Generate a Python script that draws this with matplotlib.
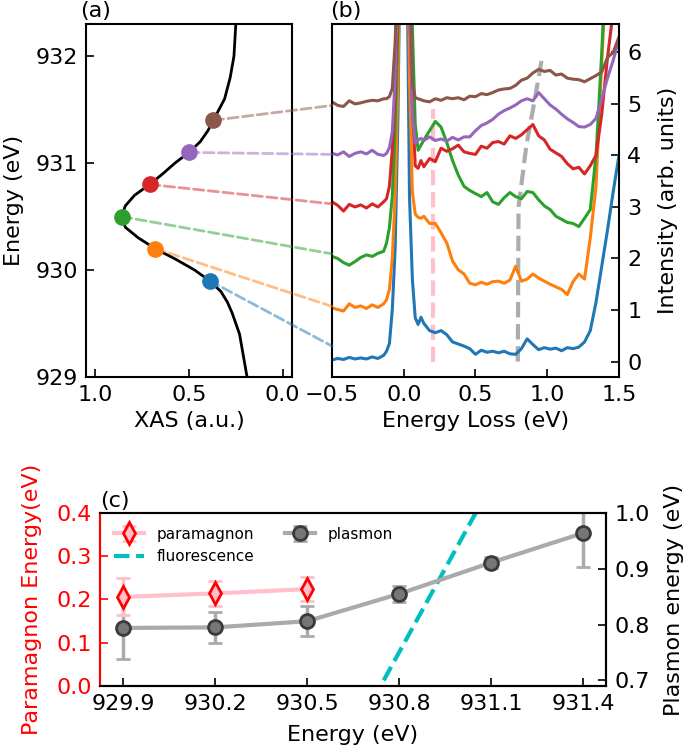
import numpy as np
import matplotlib
matplotlib.use('Agg')
import matplotlib.pyplot as plt
from matplotlib.patches import ConnectionPatch

plt.rcParams['font.size'] = 16
plt.rcParams['axes.linewidth'] = 1.5

# (a) XAS curve
xas_energy = [929.0, 929.2, 929.4, 929.5, 929.6, 929.7, 929.8, 929.9, 930.0, 930.1,
              930.2, 930.3, 930.4, 930.5, 930.6, 930.7, 930.8, 930.9, 931.0, 931.1,
              931.2, 931.3, 931.4, 931.5, 931.6, 931.8, 932.0, 932.3]
xas_int = [0.19, 0.21, 0.23, 0.25, 0.27, 0.295, 0.33, 0.39, 0.47, 0.57,
           0.68, 0.77, 0.84, 0.86, 0.84, 0.79, 0.71, 0.64, 0.575, 0.50,
           0.44, 0.40, 0.37, 0.34, 0.31, 0.28, 0.26, 0.25]

# incident energies and XAS at the marked points
energy = [929.9, 930.2, 930.5, 930.8, 931.1, 931.4]
xas_marks = [0.39, 0.68, 0.86, 0.71, 0.50, 0.37]
conn_end = [0.30, 1.07, 2.09, 3.06, 4.02, 4.97]
colors = ['C0', 'C1', 'C2', 'C3', 'C4', 'C5']

# (b) RIXS spectra (offset already included)
loss = [-0.50, -0.46, -0.42, -0.38, -0.34, -0.30, -0.26, -0.22, -0.18, -0.14,
        -0.12, -0.10, -0.08, -0.06, -0.04, 0.00, 0.04, 0.06, 0.08, 0.10,
        0.12, 0.14, 0.18, 0.22, 0.26, 0.30, 0.34, 0.38, 0.42, 0.46,
        0.50, 0.54, 0.58, 0.62, 0.66, 0.70, 0.74, 0.78, 0.82, 0.86,
        0.90, 0.94, 0.98, 1.02, 1.06, 1.10, 1.14, 1.18, 1.22, 1.26,
        1.30, 1.34, 1.38, 1.42, 1.46, 1.50]

spec_9299 = [0.03, 0.06, 0.04, 0.08, 0.05, 0.07, 0.05, 0.09, 0.06, 0.12,
             0.20, 0.35, 1.0, 2.2, 4.8, 14, 3.2, 1.6, 0.85, 0.72,
             0.86, 0.74, 0.60, 0.56, 0.60, 0.52, 0.38, 0.34, 0.30, 0.25,
             0.14, 0.22, 0.18, 0.20, 0.17, 0.20, 0.15, 0.14, 0.25, 0.44,
             0.33, 0.23, 0.27, 0.24, 0.26, 0.21, 0.27, 0.25, 0.28, 0.38,
             0.60, 1.15, 1.85, 2.55, 3.3, 4.0]
spec_9302 = [1.04, 1.01, 0.98, 1.12, 1.05, 1.08, 1.03, 1.10, 1.05, 1.12,
             1.20, 1.40, 2.0, 3.2, 5.5, 14, 5.5, 3.3, 2.86, 2.80,
             2.78, 2.82, 2.68, 2.68, 2.50, 2.30, 1.95, 1.78, 1.70, 1.52,
             1.49, 1.54, 1.50, 1.55, 1.56, 1.52, 1.58, 1.85, 1.56, 1.60,
             1.70, 1.62, 1.56, 1.50, 1.45, 1.40, 1.30, 1.55, 1.70, 1.60,
             2.4, 3.4, 5.8, 8.0, 10, 12]
spec_9305 = [2.04, 2.00, 1.92, 1.87, 1.94, 2.02, 2.07, 2.04, 2.10, 2.14,
             2.30, 2.60, 3.2, 4.5, 6.5, 15, 8.0, 6.5, 4.6, 4.10,
             4.20, 4.30, 4.48, 4.66, 4.55, 4.25, 3.90, 3.62, 3.40, 3.32,
             3.26, 3.20, 3.28, 3.10, 3.05, 3.18, 3.28, 3.20, 3.16, 3.30,
             3.28, 3.14, 3.02, 2.95, 2.82, 2.76, 2.70, 2.68, 2.62, 2.78,
             2.95, 4.0, 6.0, 8.5, 11, 13]
spec_9308 = [3.10, 3.03, 2.92, 3.05, 3.00, 3.04, 2.98, 3.06, 3.00, 3.10,
             3.16, 3.40, 4.1, 5.2, 7.0, 15, 7.0, 5.0, 3.80, 3.75,
             3.90, 3.78, 3.94, 3.88, 4.14, 4.08, 4.13, 4.20, 4.07, 4.04,
             4.02, 4.18, 4.14, 4.25, 4.27, 4.22, 4.38, 4.33, 4.40, 4.50,
             4.60, 4.38, 4.30, 4.12, 4.05, 3.98, 3.84, 3.74, 3.77, 3.64,
             3.80, 4.0, 4.8, 5.9, 6.8, 7.5]
spec_9311 = [4.04, 4.01, 4.07, 3.98, 4.04, 4.07, 4.03, 4.10, 4.02, 4.00,
             4.04, 4.15, 4.45, 5.5, 7.5, 15, 7.0, 4.8, 4.24, 4.30,
             4.33, 4.29, 4.36, 4.29, 4.32, 4.28, 4.35, 4.30, 4.36, 4.36,
             4.48, 4.58, 4.63, 4.70, 4.80, 4.87, 4.92, 4.98, 5.06, 5.10,
             5.06, 5.22, 5.10, 4.98, 4.90, 4.80, 4.71, 4.64, 4.56, 4.55,
             4.60, 4.72, 5.1, 5.5, 5.85, 6.25]
spec_9314 = [5.04, 4.97, 4.95, 5.06, 5.00, 5.02, 5.05, 5.07, 5.06, 5.10,
             5.10, 5.14, 5.3, 6.2, 8.0, 15, 8.0, 5.4, 5.12, 5.10,
             5.08, 5.06, 5.04, 5.10, 5.07, 5.12, 5.10, 5.12, 5.08, 5.15,
             5.14, 5.20, 5.18, 5.22, 5.27, 5.29, 5.30, 5.36, 5.46, 5.50,
             5.60, 5.67, 5.63, 5.65, 5.56, 5.58, 5.50, 5.48, 5.47, 5.43,
             5.49, 5.55, 5.62, 5.90, 6.00, 6.30]
spectra = [spec_9299, spec_9302, spec_9305, spec_9308, spec_9311, spec_9314]

# guide lines in (b)
para_guide_x = [0.205, 0.205]
para_guide_y = [0.0, 4.9]
plas_guide_x = [0.795, 0.800, 0.855, 0.911, 0.964]
plas_guide_y = [0.0, 3.0, 4.2, 5.05, 5.9]

# (c) fitted energies
para_E = [0.206, 0.214, 0.224]
para_err = [0.043, 0.029, 0.027]
plasmon_E = [0.794, 0.795, 0.806, 0.855, 0.911, 0.964]
plasmon_err = [0.055, 0.028, 0.027, 0.014, 0.010, 0.060]
fluor_E = [930.75, 931.05]
fluor_loss = [0.70, 1.00]

fig = plt.figure(figsize=(6.85, 7.51), dpi=100)
ax_a = fig.add_axes([0.1255, 0.498, 0.3008, 0.470])
ax_b = fig.add_axes([0.4847, 0.498, 0.4189, 0.470])
ax_c = fig.add_axes([0.146, 0.0866, 0.7387, 0.2303])

# ---- panel (a)
ax_a.plot(xas_int, xas_energy, color='k', lw=2)
for x, e, c in zip(xas_marks, energy, colors):
    ax_a.plot(x, e, 'o', color=c, ms=11, zorder=5)
ax_a.set_xlim(1.05, -0.05)
ax_a.set_ylim(929, 932.3)
ax_a.set_xticks([1.0, 0.5, 0.0])
ax_a.set_yticks([929, 930, 931, 932])
ax_a.tick_params(direction='in', length=6, width=1.2, pad=6)
ax_a.set_xlabel('XAS (a.u.)')
ax_a.set_ylabel('Energy (eV)', labelpad=8)
ax_a.text(-0.03, 1.01, '(a)', transform=ax_a.transAxes, ha='left', va='bottom')

# ---- panel (b)
ax_b.plot(para_guide_x, para_guide_y, color='pink', ls='--', lw=3)
ax_b.plot(plas_guide_x, plas_guide_y, color='gray', alpha=0.65, ls='--', lw=3)
for ys, c in zip(spectra, colors):
    ax_b.plot(loss, ys, color=c, lw=2.2)
ax_b.set_xlim(-0.5, 1.5)
ax_b.set_ylim(-0.3, 6.55)
ax_b.set_xticks([-0.5, 0.0, 0.5, 1.0, 1.5])
ax_b.set_yticks([0, 1, 2, 3, 4, 5, 6])
ax_b.yaxis.tick_right()
ax_b.yaxis.set_label_position('right')
ax_b.tick_params(direction='in', length=6, width=1.2, pad=6)
ax_b.set_xlabel('Energy Loss (eV)')
ax_b.set_ylabel('Intensity (arb. units)', labelpad=12)
ax_b.text(-0.007, 1.01, '(b)', transform=ax_b.transAxes, ha='left', va='bottom')

# dashed connectors from (a) markers to the spectra in (b)
for x, e, yb, c in zip(xas_marks, energy, conn_end, colors):
    con = ConnectionPatch(xyA=(x, e), coordsA=ax_a.transData,
                          xyB=(-0.5, yb), coordsB=ax_b.transData,
                          color=c, alpha=0.5, ls='--', lw=2)
    fig.add_artist(con)

# ---- panel (c)
ax_c2 = ax_c.twinx()
ax_c.set_zorder(ax_c2.get_zorder() + 1)
ax_c.patch.set_visible(False)
h_plas = ax_c2.errorbar(energy, plasmon_E, yerr=plasmon_err, color='#aaaaaa', lw=3,
                        marker='o', ms=10, mfc='#767676', mec='#3a3a3a', mew=2,
                        ecolor='#aaaaaa', elinewidth=2.5, capsize=5, capthick=2)
h_fluor, = ax_c2.plot(fluor_E, fluor_loss, color='c', ls='--', lw=3)
h_para = ax_c.errorbar(energy[:3], para_E, yerr=para_err, color='pink', lw=3,
                       marker='d', ms=11, mfc='pink', mec='red', mew=2,
                       ecolor='pink', elinewidth=2.5, capsize=5, capthick=2)

ax_c.set_xlim(929.825, 931.475)
ax_c.set_xticks(energy)
ax_c.set_xticklabels(['%.1f' % e for e in energy])
ax_c.set_ylim(0, 0.4)
ax_c.set_yticks([0.0, 0.1, 0.2, 0.3, 0.4])
ax_c2.set_ylim(0.69, 1.0)
ax_c2.set_yticks([0.7, 0.8, 0.9, 1.0])
ax_c.tick_params(direction='in', length=6, width=1.2, pad=6)
ax_c.tick_params(axis='y', colors='red')
ax_c2.tick_params(direction='in', length=6, width=1.2, pad=6)
ax_c.spines['left'].set_color('red')
ax_c2.spines['left'].set_color('red')
ax_c.set_xlabel('Energy (eV)', labelpad=8)
ax_c.set_ylabel('Paramagnon Energy(eV)', color='red', labelpad=10)
ax_c2.set_ylabel('Plasmon energy (eV)', labelpad=10)
ax_c.text(0.0, 1.01, '(c)', transform=ax_c.transAxes, ha='left', va='bottom')

ax_c.legend([h_para, h_fluor, h_plas], ['paramagnon', 'fluorescence', 'plasmon'],
            ncol=2, loc='upper left', frameon=False, fontsize=11)

fig.savefig('out.png', dpi=100)
